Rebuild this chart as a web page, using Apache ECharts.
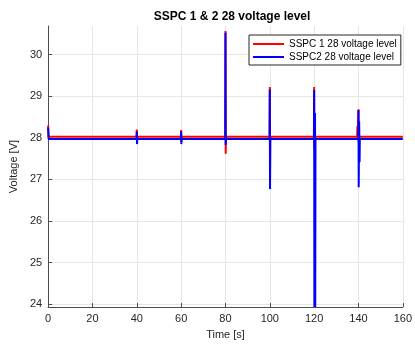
<!DOCTYPE html>
<html>
<head>
<meta charset="utf-8">
<script src="https://cdn.jsdelivr.net/npm/echarts@6/dist/echarts.min.js"></script>
<style>
  html, body { margin: 0; padding: 0; background: #fff; }
  #chart { width: 415px; height: 345px; }
</style>
</head>
<body>
<div id="chart"></div>
<script>
// SSPC 1 bus voltage samples: time [s] and voltage [V]
const sspc1Time = [0, 0.2, 39.9, 40, 40.1, 40.2, 50.3, 50.4, 50.5, 59.9, 60, 60.1, 60.2,
  79.9, 80, 80.1, 80.2, 99.9, 100, 100.1, 100.2, 119.9, 120, 120.1, 120.2,
  139.4, 139.5, 139.6, 139.9, 140, 140.1, 140.2, 160];
const sspc1Volt = [28.30, 28.025, 28.025, 28.20, 27.90, 28.025, 28.025, 28.07, 28.025, 28.025, 28.19, 27.90, 28.025,
  28.025, 30.57, 27.62, 28.025, 28.025, 29.22, 27.00, 28.025, 28.025, 29.22, 27.73, 28.025,
  28.025, 28.28, 28.025, 28.025, 28.69, 27.90, 28.025, 28.025];

// SSPC2 bus voltage samples
const sspc2Time = [0, 0.2, 39.9, 40, 40.1, 40.2, 59.9, 60, 60.1, 60.2,
  79.9, 80, 80.1, 80.2, 99.9, 100, 100.1, 100.2,
  119.9, 120, 120.1, 120.4, 120.5, 120.6, 139.9, 140, 140.1, 140.3, 140.5, 140.6, 160];
const sspc2Volt = [28.25, 27.975, 27.975, 28.15, 27.85, 27.975, 27.975, 28.15, 27.85, 27.975,
  27.975, 30.53, 27.83, 27.975, 27.975, 29.16, 26.77, 27.975,
  27.975, 29.15, 23.93, 28.60, 23.93, 27.975, 27.975, 28.67, 26.81, 28.40, 27.42, 27.975, 27.975];

const xTicks = [0, 20, 40, 60, 80, 100, 120, 140, 160];
const yTicks = [24, 25, 26, 27, 28, 29, 30];
const seriesNames = ['SSPC 1 28 voltage level', 'SSPC2 28 voltage level'];

const pairs = (t, v) => t.map((x, i) => [x, v[i]]);
const FONT = "'Liberation Sans', Arial, Helvetica, sans-serif";
const AXIS_COLOR = '#4d4d4d';
const TEXT_COLOR = '#262626';

const chart = echarts.init(document.getElementById('chart'), null, { renderer: 'canvas' });
chart.setOption({
  animation: false,
  backgroundColor: '#ffffff',
  title: {
    text: 'SSPC 1 & 2 28 voltage level',
    left: 227, top: 6, textAlign: 'center',
    textStyle: { fontFamily: FONT, fontSize: 12, fontWeight: 'bold', color: '#000' }
  },
  grid: { left: 47, right: 7.5, top: 26, bottom: 35, containLabel: false },
  legend: {
    orient: 'vertical',
    left: 249, top: 35,
    width: 150,
    padding: [4, 4, 3, 4],
    itemGap: 3,
    itemWidth: 31, itemHeight: 2,
    icon: 'rect',
    backgroundColor: '#ffffff',
    borderColor: '#262626', borderWidth: 1,
    textStyle: { fontFamily: FONT, fontSize: 10, color: '#000', padding: [0, 0, 0, 0] },
    data: seriesNames
  },
  xAxis: {
    type: 'value', min: 0, max: 160, interval: 20,
    name: 'Time [s]', nameLocation: 'middle', nameGap: 21,
    nameTextStyle: { fontFamily: FONT, fontSize: 11, color: TEXT_COLOR },
    axisLine: { show: true, lineStyle: { color: AXIS_COLOR, width: 1 } },
    axisTick: { show: true, inside: true, length: 4, lineStyle: { color: AXIS_COLOR } },
    axisLabel: { fontFamily: FONT, fontSize: 11, color: TEXT_COLOR, margin: 6 },
    splitLine: { show: true, lineStyle: { color: '#e6e6e6', width: 1 } }
  },
  yAxis: {
    type: 'value', min: 23.93, max: 30.69,
    name: 'Voltage [V]', nameLocation: 'middle', nameGap: 26,
    nameTextStyle: { fontFamily: FONT, fontSize: 11, color: TEXT_COLOR },
    axisLine: { show: true, lineStyle: { color: AXIS_COLOR, width: 1 } },
    axisTick: { show: true, inside: true, length: 4, customValues: yTicks, lineStyle: { color: AXIS_COLOR } },
    axisLabel: { fontFamily: FONT, fontSize: 11, color: TEXT_COLOR, margin: 6, customValues: yTicks },
    splitLine: { show: true, lineStyle: { color: '#e6e6e6', width: 1 } }
  },
  series: [
    {
      name: seriesNames[0], type: 'line', showSymbol: false, symbol: 'none',
      lineStyle: { color: '#ff0000', width: 2 }, itemStyle: { color: '#ff0000' },
      data: pairs(sspc1Time, sspc1Volt), z: 2
    },
    {
      name: seriesNames[1], type: 'line', showSymbol: false, symbol: 'none',
      lineStyle: { color: '#0000ff', width: 2 }, itemStyle: { color: '#0000ff' },
      data: pairs(sspc2Time, sspc2Volt), z: 3
    }
  ]
});
</script>
</body>
</html>
